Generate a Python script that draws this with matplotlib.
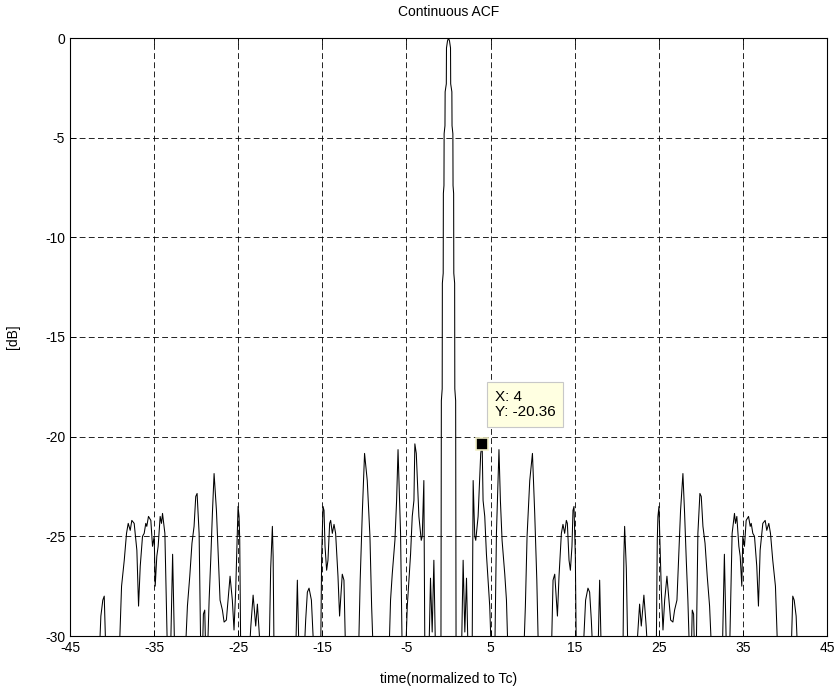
import matplotlib
matplotlib.use("Agg")
import matplotlib.pyplot as plt
import numpy as np

plt.rcParams["font.family"] = ["Liberation Sans", "DejaVu Sans"]
plt.rcParams["axes.unicode_minus"] = False

# right half of the ACF (symmetric), lag in chips and level in dB; -31 = below the axis
tau_right = [
    0, 0.12, 0.24, 0.26, 0.40, 0.42, 0.52, 0.54, 0.61, 0.63, 0.73, 0.75, 0.85, 0.88, 0.9,
    1.54, 1.74, 1.94, 2.14, 2.33,
    2.81, 2.93, 3.12, 3.24, 3.52, 3.83, 4.0, 4.11, 4.31, 4.51, 4.71, 4.9, 5.1,
    5.5, 5.7, 6.0, 6.17, 6.37, 6.69, 6.89, 7.08,
    8.94, 9.14, 9.34, 9.66, 9.98, 10.25, 10.5, 10.7,
    12.23, 12.43, 12.63, 12.83, 12.95, 13.14, 13.42, 13.61, 13.81, 14.01, 14.13, 14.33,
    14.49, 14.68, 14.8, 14.92, 15.08, 15.2,
    15.99, 16.3, 16.58, 16.78, 16.98, 17.17,
    17.77, 17.97, 18.17,
    20.74, 20.85, 20.94, 21.14, 21.33,
    22.33, 22.72, 22.92, 23.23, 23.5, 23.7,
    24.7, 24.82, 24.9, 25.02, 25.14, 25.3, 25.5, 25.7, 25.97, 26.17, 26.41, 26.68, 26.88,
    27.16, 27.35, 27.59, 27.87, 28.07, 28.27, 28.46, 28.66,
    28.86, 28.98, 29.14, 29.26,
    29.45, 29.65, 29.89, 30.05, 30.25, 30.5, 30.76, 31.04, 31.3,
    32.55, 32.8, 33.05,
    33.41, 33.72, 34.0, 34.12, 34.28, 34.52, 34.68, 34.87, 34.99, 35.19, 35.39, 35.67, 35.87,
    35.99, 36.18, 36.38, 36.65, 36.85, 37.05, 37.37, 37.65, 37.84, 38.08, 38.28, 38.55,
    38.87, 39.15,
    40.73, 40.93, 41.1, 41.33, 41.52,
    45,
]
acf_right_db = [
    0, -0.15, -0.5, -2.3, -2.7, -4.4, -4.8, -7.4, -7.8, -11.8, -12.3, -17.6, -18.2, -26, -31,
    -31, -26.2, -29.8, -27.1, -31,
    -31, -22.2, -25.0, -25.2, -24.0, -20.84, -20.36, -23.2, -24.0, -25.9, -27.2, -28.5, -31,
    -31, -24.85, -20.65, -23.2, -25.2, -26.9, -28.2, -31,
    -31, -28.5, -25.0, -22.2, -20.84, -23.85, -27.2, -31,
    -31, -27.2, -26.9, -28.2, -29.0, -27.0, -24.85, -24.4, -24.85, -24.2, -24.35, -26.2,
    -26.7, -25.5, -23.7, -23.5, -26.0, -31,
    -31, -28.2, -27.6, -27.8, -29.2, -31,
    -31, -27.2, -31,
    -31, -26.0, -24.5, -26.6, -31,
    -31, -28.4, -29.5, -27.95, -29.5, -31,
    -31, -25.2, -24.0, -23.5, -25.3, -27.7, -29.7, -28.2, -27.0, -28.0, -29.2, -29.3, -28.7,
    -28.2, -26.2, -23.7, -21.85, -23.85, -26.2, -28.2, -31,
    -31, -28.7, -28.9, -31,
    -31, -24.85, -22.85, -23.0, -24.5, -25.35, -27.0, -28.5, -31,
    -31, -25.9, -31,
    -31, -24.85, -23.85, -24.35, -24.0, -25.5, -26.0, -27.5, -25.0, -25.5, -24.2, -24.0, -24.5,
    -24.35, -24.85, -25.0, -26.5, -28.5, -25.7, -24.35, -24.2, -24.7, -24.35, -24.85, -26.2,
    -27.5, -31,
    -31, -28.0, -28.2, -29.0, -31,
    -31,
]

cursor_x = 4
cursor_y = -20.36

tau = [-t for t in tau_right[::-1]] + tau_right[1:]
acf_db = acf_right_db[::-1] + acf_right_db[1:]

fig = plt.figure(figsize=(8.4, 6.91), dpi=100)
ax = fig.add_axes([70 / 840, 55 / 691, 757 / 840, 598 / 691])

ax.plot(tau, acf_db, color="black", linewidth=0.75)

ax.set_xlim(-45, 45)
ax.set_ylim(-30, 0)
ax.set_xticks(np.arange(-45, 46, 10))
ax.set_yticks(np.arange(-30, 1, 5))

ax.grid(True, color="black", linestyle=(0, (7, 4)), linewidth=0.6)
ax.tick_params(direction="in", length=4, top=True, right=True, labelsize=10, width=0.6)
for s in ax.spines.values():
    s.set_linewidth(0.8)

ax.set_title("Continuous ACF", fontsize=10, pad=16)
ax.set_xlabel("time(normalized to Tc)", fontsize=10, labelpad=12)
ax.set_ylabel("[dB]", fontsize=10, labelpad=18)

# data cursor
ax.plot([cursor_x], [cursor_y], marker="s", markersize=8, color="black",
        markeredgecolor="#f2f0c8", markeredgewidth=1.2, zorder=5)
ax.text(5.5, -17.65, f"X: {cursor_x}\nY: {cursor_y}", fontsize=11, ha="left", va="top",
        linespacing=1.15, zorder=6,
        bbox=dict(boxstyle="square,pad=0.5", facecolor="#ffffe1", edgecolor="#c8c8c8",
                  linewidth=0.8))

fig.savefig("out.png", dpi=100)
